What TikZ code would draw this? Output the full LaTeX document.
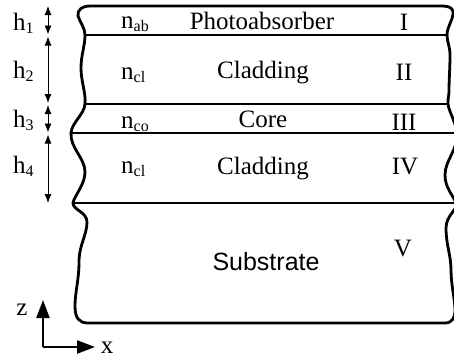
\documentclass[tikz,border=0pt]{standalone}
\usepackage{fontspec}
\setmainfont{Liberation Serif}
\newfontfamily\sansf{Liberation Sans}
\usetikzlibrary{arrows.meta}
\newcommand{\sbs}[1]{\raisebox{-3pt}{\fontsize{16}{16}\selectfont #1}}
\begin{document}
\begin{tikzpicture}[x=1pt,y=-1pt,font=\fontsize{25}{30}\selectfont,
  edge/.style={line width=2.8pt,line cap=round,line join=round},
  lbl/.style={inner sep=0pt,anchor=base},
  harrow/.style={{Latex[length=9pt,width=7pt]}-{Latex[length=9pt,width=7pt]},line width=0.9pt},
  axisarrow/.style={-{Triangle[length=18pt,width=13pt]},line width=2.4pt}]
\useasboundingbox (0,0) rectangle (454,360);
\begin{scope}
\clip (0,0) rectangle (454,360);
% outline
\draw[edge] (90,6) -- (443,6)
  .. controls (450,6) and (454,9) .. (453,14)
  .. controls (452,22) and (447,27) .. (447,35)
  .. controls (447,42) and (450,46) .. (450,55)
  .. controls (450,68) and (449,80) .. (449,90)
  .. controls (449,98) and (447,100) .. (448,104)
  .. controls (449,112) and (455,120) .. (457,133)
  .. controls (458,150) and (445,160) .. (445,175)
  .. controls (445,188) and (453,195) .. (456,203)
  .. controls (458,210) and (446,215) .. (446,228)
  .. controls (446,245) and (451,255) .. (451,270)
  .. controls (451,285) and (455,300) .. (455,310)
  .. controls (455,318) and (452,323) .. (445,323)
  -- (88,323)
  .. controls (79,323) and (75,318) .. (75,306)
  .. controls (75,292) and (79,280) .. (79,262)
  .. controls (79,245) and (87,235) .. (87,222)
  .. controls (87,212) and (73,210) .. (73,203)
  .. controls (74,196) and (85,185) .. (85,172)
  .. controls (85,158) and (70,148) .. (71,133)
  .. controls (72,122) and (84,115) .. (85,104)
  .. controls (86,92) and (81,82) .. (81,68)
  .. controls (81,55) and (85,46) .. (85,35)
  .. controls (85,28) and (80,22) .. (78,16)
  .. controls (77,10) and (82,6) .. (90,6) -- cycle;
% layer boundaries
\draw[edge] (85,35) -- (447,35);
\draw[edge] (85,104) -- (448,104);
\draw[edge] (71,133) -- (457,133);
\draw[edge] (73,203) -- (456,203);
\end{scope}
% labels
\node[lbl] (nab) at (121,28) [anchor=base west] {n\sbs{ab}};
\node[lbl] (photo) at (262,29.5) {Photoabsorber};
\node[lbl] (rI) at (404,30.5) {I};
\node[lbl] (ncl1) at (121,79) [anchor=base west] {n\sbs{cl}};
\node[lbl] (clad1) at (263,78) {Cladding};
\node[lbl] (rII) at (404,80) {II};
\node[lbl] (nco) at (121,128) [anchor=base west] {n\sbs{co}};
\node[lbl] (core) at (263,127) {Core};
\node[lbl] (rIII) at (404,130) {III};
\node[lbl] (ncl2) at (121,173) [anchor=base west] {n\sbs{cl}};
\node[lbl] (clad2) at (263,174) {Cladding};
\node[lbl] (rIV) at (405,174) {IV};
\node[lbl] (rV) at (403,256) {V};
\node[lbl] (sub) at (266,270) {\sansf Substrate};
% heights
\node[lbl] (h1) at (13,30) [anchor=base west] {h\sbs{1}};
\node[lbl] (h2) at (13,78) [anchor=base west] {h\sbs{2}};
\node[lbl] (h3) at (13,127) [anchor=base west] {h\sbs{3}};
\node[lbl] (h4) at (13,173) [anchor=base west] {h\sbs{4}};
\coordinate (a0) at (48,6);
\coordinate (a1) at (48,34.5);
\coordinate (b0) at (48,36.5);
\coordinate (b1) at (48,103);
\coordinate (c0) at (48,105);
\coordinate (c1) at (48,132.5);
\coordinate (d0) at (48,134.5);
\coordinate (d1) at (48,203);
\draw[harrow] (a0) -- (a1);
\draw[harrow] (b0) -- (b1);
\draw[harrow] (c0) -- (c1);
\draw[harrow] (d0) -- (d1);
% axes
\coordinate (o) at (43,347);
\coordinate (zt) at (43,300);
\coordinate (xt) at (95,347);
\draw[axisarrow] (o) -- (zt);
\draw[axisarrow] (o) -- (xt);
\node[lbl] (zl) at (22,315) {z};
\node[lbl] (xl) at (107,353) {x};
\end{tikzpicture}
\end{document}
